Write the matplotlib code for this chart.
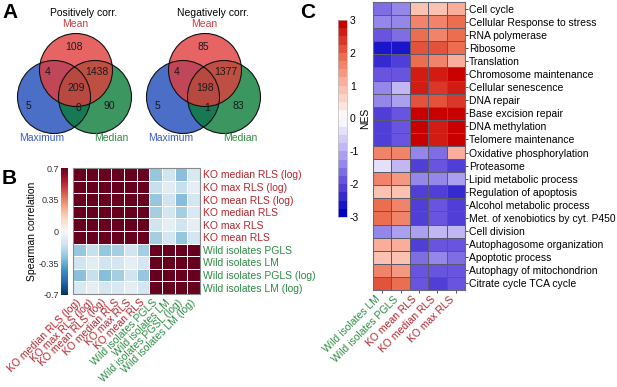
import numpy as np
import matplotlib
matplotlib.use("Agg")
import matplotlib.pyplot as plt
import matplotlib.patches as mpatches
from matplotlib.colors import LinearSegmentedColormap

plt.rcParams['font.family'] = ['Liberation Sans', 'DejaVu Sans']
plt.rcParams['axes.unicode_minus'] = False

W, H = 617, 387

# ── Panel A: Venn counts (Mean only, Mean&Max, Mean&Median, all, Max only, Max&Median, Median only)
venn_titles = ["Positively corr.", "Negatively corr."]
venn_sets = ["Mean", "Maximum", "Median"]
pos_counts = [108, 4, 1438, 209, 5, 0, 90]
neg_counts = [85, 4, 1377, 198, 5, 1, 83]

# ── Panel B: Spearman correlation
b_row_labels = ["KO median RLS (log)", "KO max RLS (log)", "KO mean RLS (log)",
                "KO median RLS", "KO max RLS", "KO mean RLS",
                "Wild isolates PGLS", "Wild isolates LM",
                "Wild isolates PGLS (log)", "Wild isolates LM (log)"]
b_col_labels = ["KO median RLS (log)", "KO max RLS (log)", "KO mean RLS (log)",
                "KO median RLS", "KO max RLS", "KO mean RLS",
                "Wild isolates PGLS", "Wild isolates LM",
                "Wild isolates PGSL (log)", "Wild isolates LM (log)"]
ko_ko = [[1.00, 0.95, 0.97, 0.99, 0.94, 0.96],
         [0.95, 1.00, 0.93, 0.94, 0.99, 0.92],
         [0.97, 0.93, 1.00, 0.96, 0.92, 0.99],
         [0.99, 0.94, 0.96, 1.00, 0.95, 0.97],
         [0.94, 0.99, 0.92, 0.95, 1.00, 0.93],
         [0.96, 0.92, 0.99, 0.97, 0.93, 1.00]]
wild_wild = [[1.00, 0.93, 0.99, 0.92],
             [0.93, 1.00, 0.92, 0.99],
             [0.99, 0.92, 1.00, 0.93],
             [0.92, 0.99, 0.93, 1.00]]
ko_wild = [[-0.27, -0.14, -0.29, -0.11],
           [-0.16, -0.08, -0.16, -0.07],
           [-0.27, -0.14, -0.30, -0.13],
           [-0.24, -0.13, -0.24, -0.11],
           [-0.14, -0.07, -0.14, -0.07],
           [-0.24, -0.13, -0.27, -0.13]]

# ── Panel C: NES
c_col_labels = ["Wild isolates LM", "Wild isolates PGLS", "KO mean RLS",
                "KO median RLS", "KO max RLS"]
c_row_labels = ["Cell cycle", "Cellular Response to stress", "RNA polymerase",
                "Ribosome", "Translation", "Chromosome maintenance",
                "Cellular senescence", "DNA repair", "Base excision repair",
                "DNA methylation", "Telomere maintenance",
                "Oxidative phosphorylation", "Proteasome",
                "Lipid metabolic process", "Regulation of apoptosis",
                "Alcohol metabolic process", "Met. of xenobiotics by cyt. P450",
                "Cell division", "Autophagosome organization",
                "Apoptotic process", "Autophagy of mitochondrion",
                "Citrate cycle TCA cycle"]
nes = [[-1.6, -1.5, 0.9, 0.9, 1.1],
       [-1.3, -1.3, 1.6, 1.6, 1.8],
       [-1.9, -1.7, 1.8, 1.7, 1.8],
       [-2.7, -2.65, 2.1, 2.0, 1.8],
       [-2.4, -2.2, 1.9, 1.7, 1.1],
       [-2.0, -1.8, 2.7, 2.6, 2.9],
       [-1.4, -1.0, 2.5, 2.4, 2.6],
       [-1.4, -1.1, 2.2, 2.1, 2.4],
       [-2.1, -1.9, 3.0, 2.8, 2.9],
       [-2.1, -1.8, 2.8, 2.7, 2.8],
       [-2.1, -1.9, 2.8, 2.7, 2.8],
       [1.7, 1.7, -1.5, -1.6, 1.0],
       [-0.4, -0.9, -2.1, -2.0, -2.2],
       [1.5, 1.4, -1.3, -1.3, -1.2],
       [0.8, 0.9, -2.2, -2.1, -2.3],
       [1.9, 1.7, -2.1, -2.0, -2.1],
       [1.9, 1.7, -2.1, -2.0, -2.2],
       [-1.4, -1.2, -1.1, -1.0, -0.9],
       [1.2, 1.0, -2.1, -1.9, -2.0],
       [0.9, 0.8, -1.6, -1.5, -1.6],
       [1.5, 1.3, -2.0, -1.8, -1.9],
       [2.0, 1.8, -2.0, -2.2, -1.9]]

KO_RED = "#b3262e"
WILD_GREEN = "#2e8b45"


def px(x0, y0, x1, y1):
    return [x0 / W, 1 - y1 / H, (x1 - x0) / W, (y1 - y0) / H]


fig = plt.figure(figsize=(W / 100, H / 100), dpi=100)

# ─────────────── A: Venn diagrams (pixel-space axes)
ax_a = fig.add_axes([0, 0, 1, 1])
ax_a.set_xlim(0, W)
ax_a.set_ylim(H, 0)
ax_a.axis("off")

circle_colors = {"Maximum": "#1e4aba", "Median": "#0b7c37", "Mean": "#e03d3d"}
label_colors = {"Mean": "#d13c3c", "Maximum": "#3c5ac8", "Median": "#2e8b45"}
centers = {"Mean": (76, 70), "Maximum": (54, 97), "Median": (95, 97)}
label_pos = {"Mean": (75, 24), "Maximum": (42, 138), "Median": (111, 138)}
# region label offsets (same order as counts)
region_pos = [(74, 47), (48, 72), (97, 72), (76, 88), (28, 106), (78, 108), (109, 106)]

for k, (title, counts) in enumerate(zip(venn_titles, [pos_counts, neg_counts])):
    dx = k * 129
    ax_a.text(84 + dx, 13, title, ha="center", va="center", fontsize=7.5)
    for name in ["Maximum", "Median", "Mean"]:
        cx, cy = centers[name]
        ax_a.add_patch(mpatches.Circle((cx + dx, cy), 36.5, facecolor=circle_colors[name],
                                       alpha=0.8, edgecolor="none"))
    for name in ["Maximum", "Median", "Mean"]:
        cx, cy = centers[name]
        ax_a.add_patch(mpatches.Circle((cx + dx, cy), 36.5, facecolor="none",
                                       edgecolor="#111111", linewidth=0.8))
    for name in venn_sets:
        lx, ly = label_pos[name]
        ax_a.text(lx + dx, ly, name, ha="center", va="center", fontsize=7.5,
                  color=label_colors[name])
    for (rx, ry), n in zip(region_pos, counts):
        ax_a.text(rx + dx, ry, str(n), ha="center", va="center", fontsize=7.5,
                  color="#1a1a1a")

ax_a.text(10, 13, "A", ha="center", va="center", fontsize=15, fontweight="bold")
ax_a.text(9, 178, "B", ha="center", va="center", fontsize=15, fontweight="bold")
ax_a.text(308, 12, "C", ha="center", va="center", fontsize=15, fontweight="bold")

# ─────────────── B: correlation heatmap
corr = np.block([[np.array(ko_ko), np.array(ko_wild)],
                 [np.array(ko_wild).T, np.array(wild_wild)]])
ax_b = fig.add_axes(px(73, 168, 200, 294))
mesh_b = ax_b.pcolormesh(corr, cmap="RdBu_r", vmin=-0.7, vmax=0.7,
                         edgecolors="white", linewidth=0.4)
ax_b.set_xlim(0, len(b_col_labels))
ax_b.set_ylim(len(b_row_labels), 0)
ax_b.yaxis.tick_right()
ax_b.set_yticks(np.arange(len(b_row_labels)) + 0.5)
ax_b.set_yticklabels(b_row_labels, fontsize=7.5)
ax_b.set_xticks(np.arange(len(b_col_labels)) + 0.5)
ax_b.set_xticklabels(b_col_labels, fontsize=7.5, rotation=45, ha="right",
                     va="center", rotation_mode="anchor")
ax_b.tick_params(axis="y", length=0, pad=2)
ax_b.tick_params(axis="x", length=0, pad=5)
for lab in ax_b.get_yticklabels() + ax_b.get_xticklabels():
    lab.set_color(KO_RED if lab.get_text().startswith("KO") else WILD_GREEN)
for s in ax_b.spines.values():
    s.set_color("#8a8a8a")
    s.set_linewidth(0.8)

cax_b = fig.add_axes(px(61, 168, 68, 295))
cb_b = fig.colorbar(mesh_b, cax=cax_b)
cb_b.set_ticks([0.7, 0.35, 0, -0.35, -0.7])
cb_b.set_ticklabels(["0.7", "0.35", "0", "-0.35", "-0.7"])
cax_b.yaxis.set_ticks_position("left")
cax_b.yaxis.set_label_position("left")
cax_b.tick_params(length=0, pad=1.5, labelsize=6.5, labelcolor="#333333")
cb_b.outline.set_visible(False)
cb_b.set_label("Spearman correlation", fontsize=7.5, labelpad=1)

# ─────────────── C: NES heatmap
nes_cmap = LinearSegmentedColormap.from_list(
    "nes", ["#0000c0", "#6550de", "#bab0f2", "#ffffff", "#fbbcab", "#eb6a4c", "#c80000"],
    N=24)
nes_arr = np.array(nes)
ax_c = fig.add_axes(px(373, 2, 465, 290))
mesh_c = ax_c.pcolormesh(nes_arr, cmap=nes_cmap, vmin=-3, vmax=3,
                         edgecolors="#5a5a6a", linewidth=0.4)
ax_c.set_xlim(0, len(c_col_labels))
ax_c.set_ylim(len(c_row_labels), 0)
ax_c.yaxis.tick_right()
ax_c.set_yticks(np.arange(len(c_row_labels)) + 0.5)
ax_c.set_yticklabels(c_row_labels, fontsize=7.5)
ax_c.set_xticks(np.arange(len(c_col_labels)) + 0.5)
ax_c.set_xticklabels(c_col_labels, fontsize=7.5, rotation=45, ha="right")
ax_c.tick_params(length=2, width=0.6, pad=1, color="#333333")
for lab in ax_c.get_xticklabels():
    lab.set_color(KO_RED if lab.get_text().startswith("KO") else WILD_GREEN)
for s in ax_c.spines.values():
    s.set_color("#6a6a7a")
    s.set_linewidth(0.8)

cax_c = fig.add_axes(px(338, 20, 347, 217))
cb_c = fig.colorbar(mesh_c, cax=cax_c)
cb_c.set_ticks([3, 2, 1, 0, -1, -2, -3])
cax_c.tick_params(length=0, pad=2, labelsize=7.5)
cb_c.outline.set_edgecolor("#bbbbbb")
cb_c.outline.set_linewidth(0.5)
cb_c.set_label("NES", fontsize=7.5, labelpad=1)

fig.savefig("out.png", dpi=100)
